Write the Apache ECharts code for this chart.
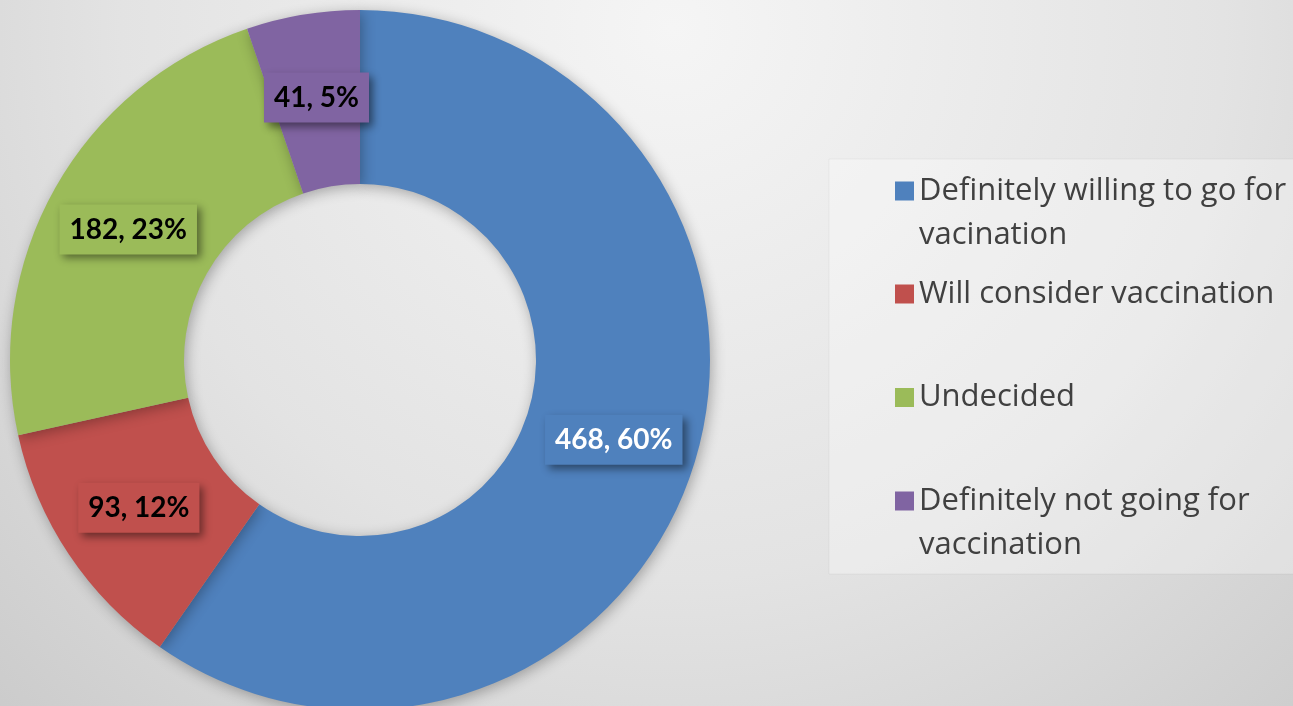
<!DOCTYPE html>
<html>
<head>
<meta charset="utf-8">
<script src="https://cdn.jsdelivr.net/npm/echarts@6/dist/echarts.min.js"></script>
<style>
html,body{margin:0;padding:0;}
#chart{width:1293px;height:706px;}
</style>
</head>
<body>
<div id="chart"></div>
<script>
const categories = [
  'Definitely willing to go for vacination',
  'Will consider vaccination',
  'Undecided',
  'Definitely not going for vaccination'
];
const legendLines = [
  ['Definitely willing to go for', 'vacination'],
  ['Will consider vaccination'],
  ['Undecided'],
  ['Definitely not going for', 'vaccination']
];
const values = [468, 93, 182, 41];
const colors = ['#4f81bd', '#c0504d', '#9bbb59', '#8064a2'];
const labelColors = ['#ffffff', '#000000', '#000000', '#000000'];

const LEGEND_FONT = '"Open Sans", Lato, sans-serif';
const LABEL_FONT = 'Lato, "Open Sans", sans-serif';
const iconCenters = [191, 294, 397.5, 501];

const legends = categories.map((name, i) => {
  const twoLine = legendLines[i].length > 1;
  return {
    data: [name],
    orient: 'vertical',
    left: 895,
    top: iconCenters[i] - (twoLine ? 66 : 22),
    padding: 0,
    icon: 'rect',
    itemWidth: 19,
    itemHeight: 19,
    selectedMode: false,
    formatter: () => (twoLine ? '\n' : '') + legendLines[i].join('\n'),
    textStyle: {
      fontFamily: LEGEND_FONT,
      fontSize: 31,
      color: '#404040',
      lineHeight: 44
    }
  };
});

const chart = echarts.init(document.getElementById('chart'));
chart.setOption({
  animation: false,
  backgroundColor: {
    type: 'radial', x: 0.52, y: 0.04, r: 1.42,
    colorStops: [
      { offset: 0, color: '#f5f5f5' },
      { offset: 0.55, color: '#e3e3e3' },
      { offset: 1, color: '#c9c9c9' }
    ]
  },
  color: colors,
  graphic: [{
    type: 'rect',
    silent: true,
    z: -1,
    shape: { x: 829, y: 159, width: 480, height: 415 },
    style: { fill: 'rgba(255,255,255,0.3)', stroke: 'rgba(0,0,0,0.04)', lineWidth: 1 }
  }],
  legend: legends,
  series: [{
    type: 'pie',
    center: [360, 360],
    radius: [176, 350],
    startAngle: 90,
    clockwise: true,
    percentPrecision: 0,
    avoidLabelOverlap: false,
    emphasis: { disabled: true },
    itemStyle: {
      shadowBlur: 14,
      shadowColor: 'rgba(0,0,0,0.3)',
      shadowOffsetX: 2,
      shadowOffsetY: 3
    },
    labelLine: { show: false },
    label: {
      show: true,
      position: 'inside',
      formatter: '{c}, {d}%',
      fontFamily: LABEL_FONT,
      fontWeight: 'bold',
      fontSize: 28,
      lineHeight: 32,
      padding: [10, 10, 8, 10],
      shadowBlur: 8,
      shadowColor: 'rgba(0,0,0,0.45)',
      shadowOffsetX: 4,
      shadowOffsetY: 4
    },
    data: categories.map((name, i) => ({
      name: name,
      value: values[i],
      label: { color: labelColors[i], backgroundColor: colors[i] }
    }))
  }]
});
</script>
</body>
</html>
